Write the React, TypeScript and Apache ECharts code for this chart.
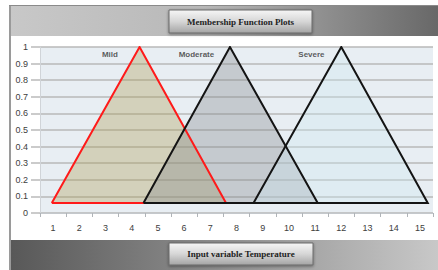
import React, { useEffect, useRef } from "react";
import * as echarts from "echarts";

// ---- data ----
const categories = ["1", "2", "3", "4", "5", "6", "7", "8", "9", "10", "11", "12", "13", "14", "15"];
const mildX = [0.95, 4.3, 7.6, 0.95];
const mildY = [0.06, 1, 0.06, 0.06];
const moderateX = [4.45, 7.75, 11.1, 4.45];
const moderateY = [0.06, 1, 0.06, 0.06];
const severeX = [8.65, 12, 15.3, 8.65];
const severeY = [0.06, 1, 0.06, 0.06];
const labelNames = ["Mild", "Moderate", "Severe"];
const labelX = [3.17, 6.47, 10.86];
const labelY = [0.952, 0.952, 0.952];
const titleText = "Membership Function Plots";
const xTitleText = "Input variable Temperature";

const zip = (xs: number[], ys: number[]) => xs.map((x, i) => [x, ys[i]]);

const boxFill = {
  type: "linear",
  x: 0,
  y: 0,
  x2: 0,
  y2: 1,
  colorStops: [
    { offset: 0, color: "#f6f6f6" },
    { offset: 0.5, color: "#d6d6d6" },
    { offset: 1, color: "#a4a4a4" },
  ],
};

export default function App() {
  const ref = useRef<HTMLDivElement>(null);
  useEffect(() => {
    if (!ref.current) return;
    const el = ref.current;
    const chart = echarts.init(el, null, { renderer: "svg" });
    const area = (name: string, xs: number[], ys: number[], fill: string, z: number) => ({
      name: name + " area",
      type: "line",
      xAxisIndex: 1,
      data: zip(xs, ys),
      showSymbol: false,
      symbol: "none",
      smooth: false,
      lineStyle: { width: 0, opacity: 0 },
      areaStyle: { color: fill, opacity: 1, origin: 0.06 },
      silent: true,
      z,
    });
    const edge = (name: string, xs: number[], ys: number[], stroke: string, z: number) => ({
      name,
      type: "line",
      xAxisIndex: 1,
      data: zip(xs, ys),
      showSymbol: false,
      symbol: "none",
      smooth: false,
      lineStyle: { color: stroke, width: 2, join: "miter" },
      silent: true,
      z,
    });
    chart.setOption({
      animation: false,
      backgroundColor: "#ffffff",
      grid: {
        left: 40,
        right: 5,
        top: 47,
        bottom: 57,
        show: true,
        backgroundColor: "#e8eef3",
        borderWidth: 0,
      },
      xAxis: [
        {
          type: "category",
          data: categories,
          boundaryGap: true,
          position: "bottom",
          axisLine: { show: true, lineStyle: { color: "#c4c8cc", width: 1 } },
          axisTick: { show: true, length: 4, lineStyle: { color: "#b0b4b8" } },
          axisLabel: {
            color: "#404040",
            fontSize: 9,
            fontFamily: "Liberation Sans",
            margin: 10,
          },
          splitLine: { show: false },
        },
        {
          type: "value",
          min: 0.5,
          max: 15.5,
          show: false,
          splitLine: { show: false },
        },
      ],
      yAxis: {
        type: "value",
        min: 0,
        max: 1,
        interval: 0.1,
        axisLine: { show: true, lineStyle: { color: "#d0d4d8", width: 1 } },
        axisTick: { show: true, length: 9, lineStyle: { color: "#bababa", width: 1.5 } },
        axisLabel: {
          color: "#404040",
          fontSize: 9,
          fontFamily: "Liberation Sans",
          margin: 12,
        },
        splitLine: { show: true, lineStyle: { color: "#b8b8b8", width: 1.5 } },
      },
      graphic: [
        { type: "rect", shape: { x: 9, y: 5, width: 2, height: 265 }, style: { fill: "#9a9a9a" }, silent: true },
        { type: "rect", shape: { x: 9, y: 5, width: 429, height: 1 }, style: { fill: "#8a8a8a" }, silent: true },
        {
          type: "rect",
          shape: { x: 11, y: 6, width: 427, height: 30 },
          style: {
            fill: {
              type: "linear",
              x: 0,
              y: 0,
              x2: 1,
              y2: 0,
              colorStops: [
                { offset: 0, color: "#c8c8c8" },
                { offset: 0.45, color: "#b8b8b8" },
                { offset: 1, color: "#686868" },
              ],
            },
          },
          silent: true,
        },
        {
          type: "rect",
          shape: { x: 11, y: 240, width: 427, height: 30 },
          style: {
            fill: {
              type: "linear",
              x: 0,
              y: 0,
              x2: 1,
              y2: 0,
              colorStops: [
                { offset: 0, color: "#585858" },
                { offset: 0.5, color: "#909090" },
                { offset: 1, color: "#c8c8c8" },
              ],
            },
          },
          silent: true,
        },
        {
          type: "rect",
          shape: { x: 169, y: 10, width: 143, height: 23 },
          style: {
            fill: boxFill,
            stroke: "#6a6a6a",
            lineWidth: 1,
            shadowBlur: 3,
            shadowOffsetY: 1,
            shadowColor: "rgba(0,0,0,0.4)",
          },
          silent: true,
        },
        {
          type: "text",
          x: 240.5,
          y: 21.5,
          style: {
            text: titleText,
            align: "center",
            verticalAlign: "middle",
            fontFamily: "Liberation Serif",
            fontWeight: "bold",
            fontSize: 9,
            fill: "#222222",
          },
          silent: true,
        },
        {
          type: "rect",
          shape: { x: 169, y: 243, width: 144, height: 22 },
          style: {
            fill: boxFill,
            stroke: "#6a6a6a",
            lineWidth: 1,
            shadowBlur: 3,
            shadowOffsetY: 1,
            shadowColor: "rgba(0,0,0,0.4)",
          },
          silent: true,
        },
        {
          type: "text",
          x: 241,
          y: 254,
          style: {
            text: xTitleText,
            align: "center",
            verticalAlign: "middle",
            fontFamily: "Liberation Serif",
            fontWeight: "bold",
            fontSize: 9,
            fill: "#222222",
          },
          silent: true,
        },
      ],
      series: [
        area("Mild", mildX, mildY, "rgba(172,155,83,0.35)", 2),
        area("Moderate", moderateX, moderateY, "rgba(132,135,140,0.35)", 2),
        area("Severe", severeX, severeY, "rgba(206,232,240,0.35)", 2),
        edge("Mild", mildX, mildY, "#ff1a1a", 3),
        edge("Moderate", moderateX, moderateY, "#141414", 3),
        edge("Severe", severeX, severeY, "#141414", 3),
        {
          type: "scatter",
          xAxisIndex: 1,
          symbolSize: 0,
          silent: true,
          data: labelNames.map((n, i) => ({ value: [labelX[i], labelY[i]], name: n })),
          label: {
            show: true,
            position: "inside",
            formatter: (p: any) => p.name,
            color: "#333333",
            fontSize: 8,
            fontWeight: "bold",
            fontFamily: "Liberation Sans",
          },
          z: 5,
        },
      ],
    });
    return () => {
      chart.dispose();
    };
  }, []);
  return (
    <div
      ref={ref}
      style={{ position: "absolute", left: 0, top: 0, width: 438, height: 270 }}
    />
  );
}
